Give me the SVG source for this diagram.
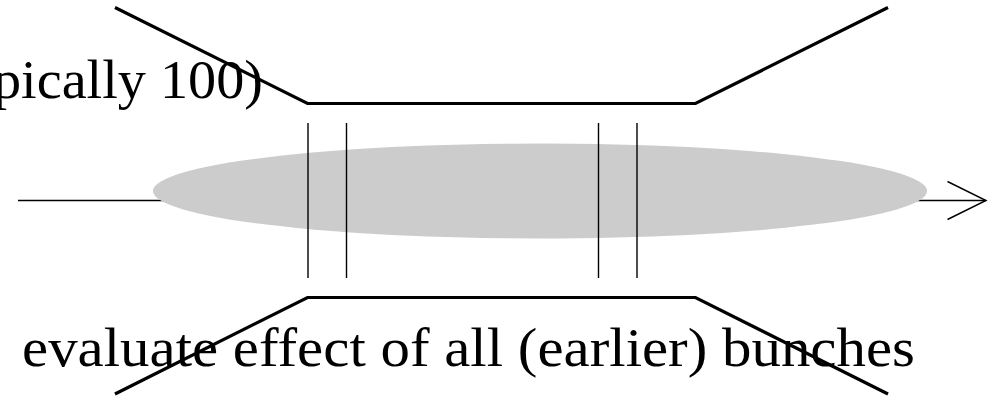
<svg xmlns="http://www.w3.org/2000/svg" width="989" height="399" viewBox="0 0 989 399">
<style>
.axis{stroke:#000;stroke-width:1.4;fill:none}
.wall{stroke:#000;stroke-width:3.2;fill:none;stroke-linejoin:miter}
.slice{stroke:#000;stroke-width:1.4}
.lbl{font-family:"Liberation Serif","DejaVu Serif",serif;font-size:54px;fill:#000}
</style>
<rect width="989" height="399" fill="#fff"/>
<g id="connectors">
<line class="axis" x1="18" y1="200.5" x2="986" y2="200.5"/>
<polyline class="axis" points="947.5,181.5 986,200.5 947.5,219.5"/>
</g>
<g id="bunch">
<ellipse cx="540" cy="191" rx="387" ry="47.5" fill="#cccccc"/>
</g>
<g id="slices">
<line class="slice" x1="308" y1="123" x2="308" y2="278"/>
<line class="slice" x1="346.5" y1="123" x2="346.5" y2="278"/>
<line class="slice" x1="598.5" y1="123" x2="598.5" y2="278"/>
<line class="slice" x1="637" y1="123" x2="637" y2="278"/>
</g>
<g id="pipe-top">
<polyline class="wall" points="115,7.5 307.5,103.5 695.5,103.5 888,7.5"/>
</g>
<g id="pipe-bottom">
<polyline class="wall" points="115,394 307.5,297.5 695.5,297.5 888,394"/>
</g>
<g id="label-top">
<text class="lbl" x="263" y="98" text-anchor="end" textLength="270" lengthAdjust="spacingAndGlyphs">pically 100)</text>
</g>
<g id="label-bottom">
<text class="lbl" x="22" y="366" textLength="893" lengthAdjust="spacingAndGlyphs">evaluate effect of all (earlier) bunches</text>
</g>
</svg>
